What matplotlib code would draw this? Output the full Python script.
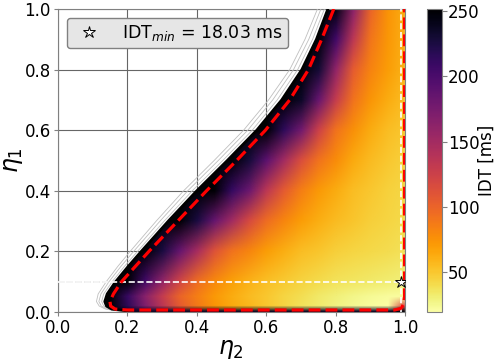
import numpy as np
import matplotlib
matplotlib.use('Agg')
import matplotlib.pyplot as plt
from matplotlib.patches import Polygon
from matplotlib.image import NonUniformImage
from matplotlib.colors import Normalize

# grid nodes (eta2 across, eta1 up)
eta2_nodes = [0.10, 0.15, 0.20, 0.25, 0.30, 0.35, 0.40, 0.45, 0.50, 0.55,
              0.60, 0.65, 0.70, 0.75, 0.80, 0.85, 0.90, 0.95, 1.00]
eta1_nodes = [0.00, 0.02, 0.05, 0.10, 0.20, 0.30, 0.40, 0.50, 0.60, 0.70, 0.80, 0.90, 1.00]

# IDT [ms], one row per eta1 node (300 = beyond the colour scale)
idt_table = [
    [300, 300, 240, 235, 235, 235, 235, 235, 235, 235, 235, 235, 235, 235, 235, 235, 235, 235, 250],
    [300, 280, 215, 170, 135, 105, 88, 74, 64, 57, 50, 44, 38, 33, 29, 25, 22, 20, 120],
    [300, 270, 210, 165, 130, 100, 85, 72, 63, 56, 50, 44, 39, 34, 30, 27, 24, 22, 21],
    [300, 300, 250, 205, 160, 122, 95, 80, 68, 60, 54, 49, 45, 41, 38, 36, 34, 32, 30],
    [300, 300, 300, 275, 225, 185, 148, 112, 92, 82, 70, 62, 55, 51, 47, 44, 42, 40, 38],
    [300, 300, 300, 300, 300, 265, 225, 185, 150, 118, 95, 82, 70, 62, 56, 51, 47, 44, 41],
    [300, 300, 300, 300, 300, 300, 300, 250, 212, 182, 135, 106, 85, 72, 63, 55, 50, 46, 43],
    [300, 300, 300, 300, 300, 300, 300, 300, 280, 228, 190, 150, 115, 92, 78, 64, 56, 50, 46],
    [300, 300, 300, 300, 300, 300, 300, 300, 300, 300, 270, 215, 178, 125, 92, 76, 63, 55, 50],
    [300, 300, 300, 300, 300, 300, 300, 300, 300, 300, 300, 300, 235, 185, 130, 92, 74, 63, 55],
    [300, 300, 300, 300, 300, 300, 300, 300, 300, 300, 300, 300, 300, 230, 160, 105, 83, 70, 59],
    [300, 300, 300, 300, 300, 300, 300, 300, 300, 300, 300, 300, 300, 280, 205, 135, 90, 73, 61],
    [300, 300, 300, 300, 300, 300, 300, 300, 300, 300, 300, 300, 300, 300, 245, 165, 100, 75, 62],
]

# edge of the valid region (black line)
eta1_b = [0.004, 0.01, 0.02, 0.035, 0.06, 0.10, 0.15, 0.20, 0.30, 0.40, 0.50, 0.60, 0.70, 0.80, 0.90, 1.00]
eta2_b = [0.20, 0.155, 0.140, 0.135, 0.142, 0.166, 0.202, 0.240, 0.318, 0.400, 0.488, 0.573, 0.645, 0.703, 0.745, 0.778]

# thin grey curves just outside the edge
gray_1 = [0.19, 0.148, 0.132, 0.126, 0.132, 0.156, 0.191, 0.229, 0.306, 0.387, 0.475, 0.560, 0.632, 0.691, 0.734, 0.768]
gray_2 = [0.18, 0.142, 0.125, 0.118, 0.124, 0.147, 0.181, 0.218, 0.294, 0.374, 0.462, 0.547, 0.619, 0.679, 0.723, 0.758]
gray_3 = [0.17, 0.137, 0.119, 0.111, 0.116, 0.139, 0.172, 0.208, 0.283, 0.362, 0.450, 0.535, 0.607, 0.668, 0.712, 0.748]

# red dashed contour
red_eta2 = [0.795, 0.760, 0.722, 0.668, 0.598, 0.515, 0.428, 0.345, 0.262, 0.183, 0.160, 0.150,
            0.152, 0.165, 0.20, 0.60, 0.97, 0.988, 0.996, 0.999, 0.999]
red_eta1 = [1.00, 0.90, 0.80, 0.70, 0.60, 0.50, 0.40, 0.30, 0.20, 0.10, 0.06, 0.035,
            0.02, 0.01, 0.007, 0.007, 0.007, 0.012, 0.025, 0.05, 1.00]

# minimum
eta2_min = 0.988
eta1_min = 0.100
idt_min = 18.03

vmin, vmax = 20, 251

fig = plt.figure(figsize=(4.95, 3.6), dpi=100)
ax = fig.add_axes([0.117, 0.133, 0.701, 0.842])
cax = fig.add_axes([0.8626, 0.134, 0.0303, 0.840])

im = NonUniformImage(ax, interpolation='bilinear', cmap='inferno_r',
                     norm=Normalize(vmin, vmax), zorder=2)
im.set_data(np.array(eta2_nodes), np.array(eta1_nodes), np.array(idt_table, dtype=float))
ax.add_image(im)
clip = Polygon(list(zip(eta2_b, eta1_b)) + [(1.0, 1.0), (1.0, 0.0), (0.20, 0.0)],
               closed=True, transform=ax.transData, facecolor='none', edgecolor='none')
ax.add_patch(clip)
im.set_clip_path(clip)

for g in [gray_1, gray_2, gray_3]:
    ax.plot(g, eta1_b, color='0.75', lw=0.6, zorder=3)
ax.plot(eta2_b, eta1_b, color='black', lw=2, zorder=4)
ax.plot(red_eta2, red_eta1, color='red', ls='--', lw=2.3, zorder=5)

ax.axhline(eta1_min, color='0.72', ls='--', lw=1.2, zorder=1.5)
ax.axhline(eta1_min, color='white', ls='--', lw=1.2, zorder=4.5)
ax.axvline(eta2_min, color='white', ls='--', lw=1.2, zorder=4.5)
ax.plot(eta2_min, eta1_min, ls='none', marker='*', ms=9, mfc='white', mec='black',
        mew=0.7, zorder=6, label='IDT$_{min}$ = %.2f ms' % idt_min)

ax.set_xlim(0, 1)
ax.set_ylim(0, 1)
ax.set_xticks(np.arange(0, 1.01, 0.2))
ax.set_yticks(np.arange(0, 1.01, 0.2))
ax.grid(True, color='0.4', lw=0.8, zorder=1)
ax.set_axisbelow(True)
ax.tick_params(labelsize=12, color='grey', length=3, pad=2)
for s in ax.spines.values():
    s.set_color('grey')
ax.set_xlabel(r'$\eta_2$', fontsize=17, labelpad=0)
ax.set_ylabel(r'$\eta_1$', fontsize=17, labelpad=0)

leg = ax.legend(loc='upper left', fontsize=12.5, facecolor='#e6e6e6', edgecolor='grey',
                framealpha=1, handletextpad=0.9, borderpad=0.3)
leg.set_zorder(10)

cb = fig.colorbar(im, cax=cax, ticks=[50, 100, 150, 200, 250])
cb.ax.tick_params(labelsize=12, color='grey', pad=1)
cb.outline.set_edgecolor('grey')
cb.set_label('IDT [ms]', fontsize=12, labelpad=-1.5)

fig.savefig('out.png', dpi=100)
